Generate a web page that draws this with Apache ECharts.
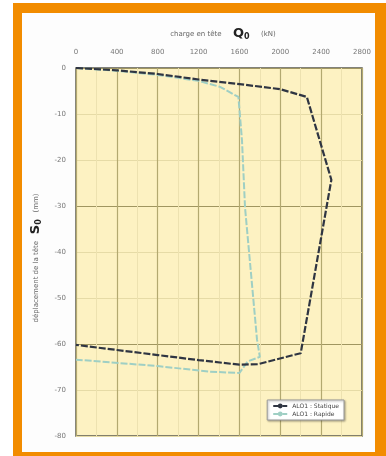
<!DOCTYPE html>
<html>
<head>
<meta charset="utf-8">
<script src="https://cdn.jsdelivr.net/npm/echarts@6/dist/echarts.min.js"></script>
<style>
html,body{margin:0;padding:0;background:#fff;}
#frame{position:absolute;left:13px;top:3px;width:373px;height:453px;background:#f28c00;}
#inner{position:absolute;left:22px;top:13px;width:353px;height:439px;background:#fdfdfd;}
#chart{position:absolute;left:0;top:0;width:386px;height:456px;}
</style>
</head>
<body>
<div id="frame"></div><div id="inner"></div>
<div id="chart"></div>
<script>
// Data
const xTicks = [0, 400, 800, 1200, 1600, 2000, 2400, 2800];
const yTicks = [0, -10, -20, -30, -40, -50, -60, -70, -80];
const seriesNames = ['ALO1 : Statique', 'ALO1 : Rapide'];
const staticQ = [0, 400, 800, 1200, 1600, 2000, 2260, 2500, 2200, 1780, 1600, 1200, 800, 400, 0];
const staticS = [0, -0.5, -1.3, -2.5, -3.5, -4.6, -6.3, -24.3, -62.0, -64.4, -64.5, -63.5, -62.4, -61.3, -60.2];
const rapideQ = [0, 400, 800, 1200, 1410, 1590, 1625, 1655, 1772, 1800, 1680, 1600, 1300, 800, 0];
const rapideS = [0, -0.6, -1.5, -2.8, -4.1, -6.3, -15.7, -30.4, -59.0, -62.8, -63.8, -66.3, -66.0, -64.8, -63.4];

const pairs = (a, b) => a.map((v, i) => [v, b[i]]);

const chart = echarts.init(document.getElementById('chart'), null, {renderer: 'canvas'});
const labelFont = 'DejaVu Sans';
chart.setOption({
  animation: false,
  textStyle: {fontFamily: labelFont},
  title: {
    left: 218, top: 20, textAlign: 'center',
    text: '{a|charge en tête}  {q|Q}{s|0}  {a|(kN)}',
    textStyle: {
      fontWeight: 'normal',
      rich: {
        a: {fontSize: 7, color: '#666', fontWeight: 'normal', fontFamily: labelFont},
        q: {fontSize: 13, fontWeight: 'bold', color: '#222', fontFamily: labelFont},
        s: {fontSize: 8, fontWeight: 'bold', color: '#222', fontFamily: labelFont, padding: [6, 0, 0, 0]}
      }
    }
  },
  graphic: [{
    type: 'text', x: 36, y: 258, rotation: Math.PI / 2,
    style: {
      text: '{a|déplacement de la tête}  {q|S}{s|0}  {a|(mm)}',
      align: 'center', verticalAlign: 'middle',
      rich: {
        a: {fontSize: 7, fill: '#666', fontFamily: labelFont},
        q: {fontSize: 13, fontWeight: 'bold', fill: '#222', fontFamily: labelFont},
        s: {fontSize: 8, fontWeight: 'bold', fill: '#222', fontFamily: labelFont, padding: [6, 0, 0, 0]}
      }
    }
  }],
  grid: {
    left: 76, top: 68, width: 286, height: 368,
    show: true, backgroundColor: '#fdf2c2', borderColor: '#5a5a50', borderWidth: 1.5
  },
  legend: {
    right: 42, bottom: 36, orient: 'vertical',
    backgroundColor: '#fff', borderColor: '#999', borderWidth: 1,
    padding: [3, 5], itemGap: 2, itemWidth: 14, itemHeight: 6,
    textStyle: {fontSize: 6, color: '#444'},
    shadowColor: 'rgba(0,0,0,0.3)', shadowBlur: 2, shadowOffsetX: 1, shadowOffsetY: 1,
    data: seriesNames
  },
  xAxis: {
    type: 'value', position: 'top', min: 0, max: 2800, interval: 400,
    axisLine: {show: false}, axisTick: {show: false},
    axisLabel: {fontSize: 7, color: '#777', margin: 12,
      formatter: v => xTicks.includes(v) ? String(v) : ''},
    splitLine: {show: true, lineStyle: {color: '#b3a970', width: 1.2}},
    minorTick: {show: false, splitNumber: 2},
    minorSplitLine: {show: true, lineStyle: {color: '#ede2b0', width: 1}}
  },
  yAxis: {
    type: 'value', min: -80, max: 0, interval: 10,
    axisLine: {show: false}, axisTick: {show: false},
    axisLabel: {fontSize: 7, color: '#777', margin: 10,
      formatter: v => yTicks.includes(v) ? String(v) : ''},
    splitLine: {show: true, lineStyle: {color: ['#e6dba6', '#e6dba6', '#a09660'], width: 1.2}}
  },
  series: [
    {
      name: seriesNames[0], type: 'line', data: pairs(staticQ, staticS),
      showSymbol: false, symbol: 'none', z: 3,
      lineStyle: {color: '#2f3542', width: 2.2, type: [7, 2]},
      itemStyle: {color: '#2f3542'}
    },
    {
      name: seriesNames[1], type: 'line', data: pairs(rapideQ, rapideS),
      showSymbol: false, symbol: 'none', z: 2,
      lineStyle: {color: '#9fcfc4', width: 2, type: [7, 2]},
      itemStyle: {color: '#9fcfc4'}
    }
  ]
});
</script>
</body>
</html>
